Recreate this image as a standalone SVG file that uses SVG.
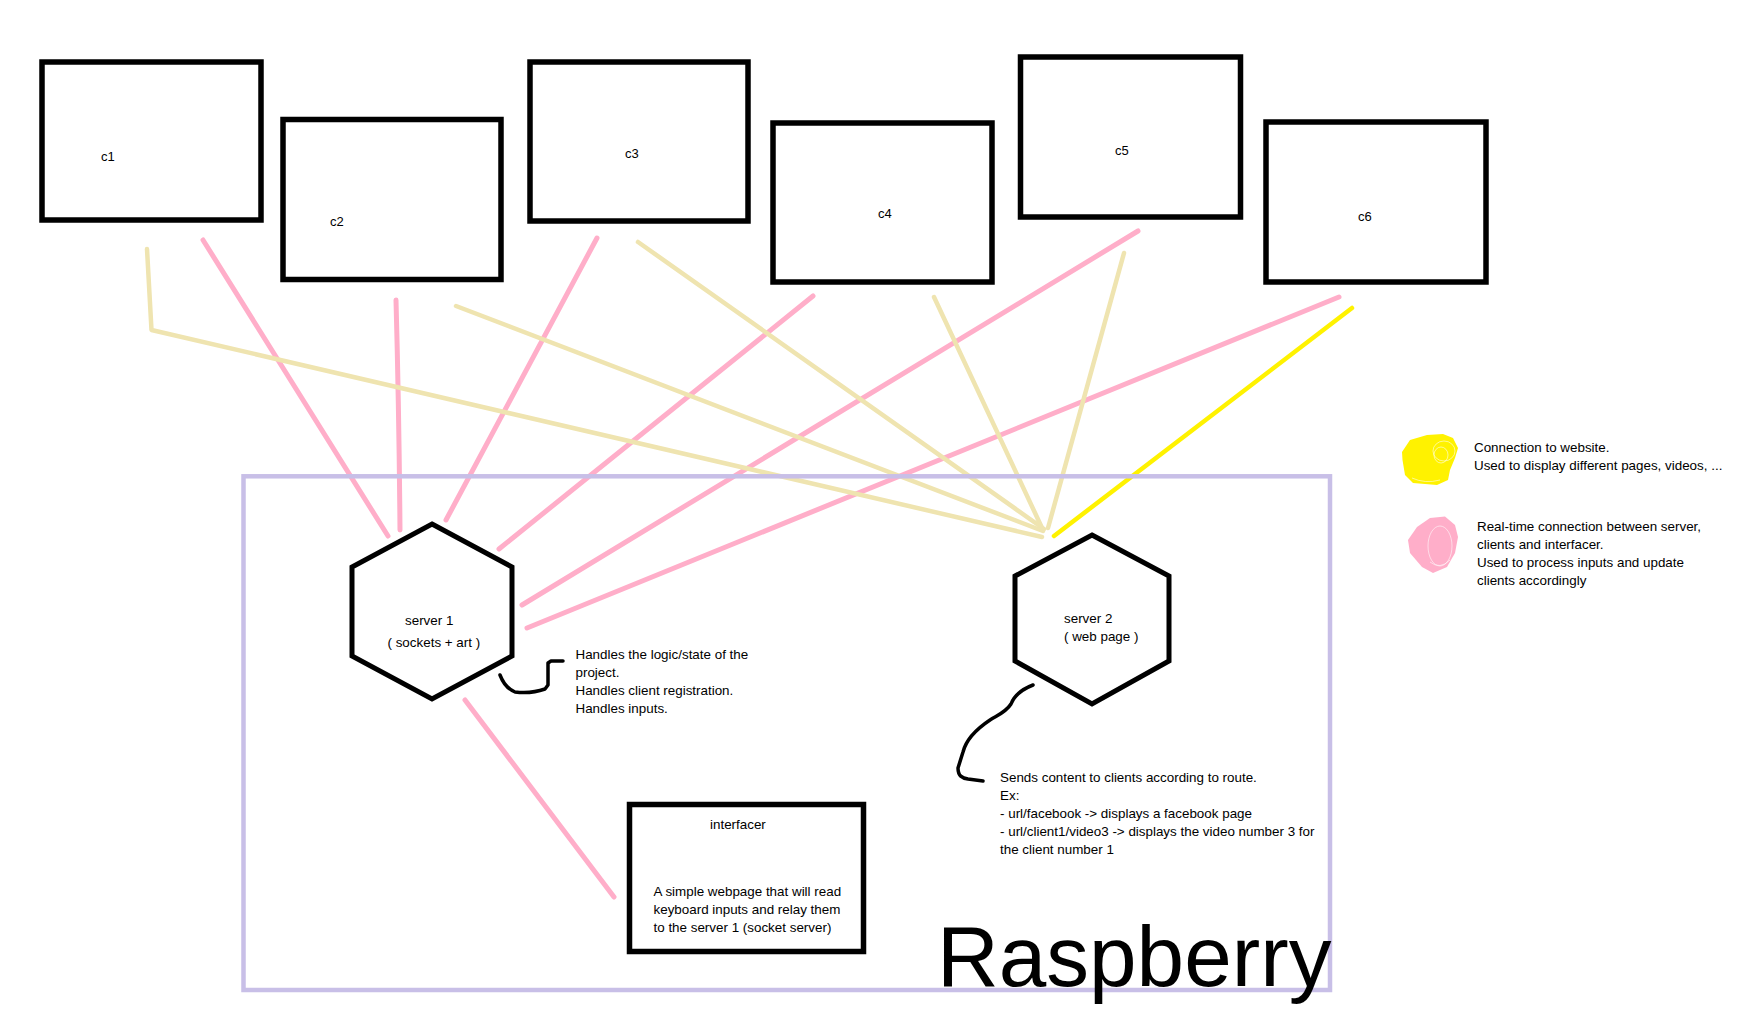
<svg xmlns="http://www.w3.org/2000/svg" width="1758" height="1024" viewBox="0 0 1758 1024">
<style>
  .box { fill: none; stroke: #000; stroke-width: 5.5; }
  .hex { fill: none; stroke: #000; stroke-width: 5; stroke-linejoin: miter; }
  .pink { fill: none; stroke: #ffaec9; stroke-width: 5; stroke-linecap: round; stroke-linejoin: round; }
  .beige { fill: none; stroke: #efe4b0; stroke-width: 4.5; stroke-linecap: round; stroke-linejoin: round; }
  .yellow { fill: none; stroke: #fff200; stroke-width: 4.5; stroke-linecap: round; }
  .ink { fill: none; stroke: #000; stroke-width: 3.5; stroke-linecap: round; stroke-linejoin: round; }
  .rasp { fill: none; stroke: #c8bfe7; stroke-width: 4.5; }
  text { font-family: "Liberation Sans", Arial, sans-serif; fill: #000; }
  .t { font-size: 13.4px; }
  .lbl { font-size: 13px; }
  .big { font-size: 85.5px; }
</style>
<rect width="1758" height="1024" fill="#fff"/>

<g id="connectors">
  <line class="pink" x1="203" y1="240" x2="388" y2="536"/>
  <path class="pink" d="M396,300 Q399,410 400,530"/>
  <line class="pink" x1="597" y1="238" x2="446" y2="520"/>
  <line class="pink" x1="813" y1="296" x2="499" y2="549"/>
  <line class="pink" x1="1138" y1="231" x2="522" y2="605"/>
  <line class="pink" x1="1339" y1="297" x2="527" y2="628"/>
  <line class="pink" x1="465" y1="700" x2="614" y2="897"/>
  <polyline class="beige" points="147,249 151.5,330 1042,537"/>
  <line class="beige" x1="456" y1="306" x2="1043" y2="531"/>
  <line class="beige" x1="638" y1="242" x2="1044" y2="529"/>
  <line class="beige" x1="934" y1="297" x2="1043" y2="530"/>
  <line class="beige" x1="1124" y1="253" x2="1048" y2="528"/>
  <line class="yellow" x1="1352" y1="308" x2="1054" y2="536"/>
</g>

<g id="raspberry">
  <rect class="rasp" x="243.5" y="476.3" width="1086.5" height="513.7"/>
  <text class="big" x="937" y="986">Raspberry</text>
</g>

<g id="c1">
  <rect class="box" x="42" y="62" width="219" height="158"/>
  <text class="lbl" x="101" y="161">c1</text>
</g>
<g id="c2">
  <rect class="box" x="283" y="119.5" width="218" height="160"/>
  <text class="lbl" x="330" y="225.5">c2</text>
</g>
<g id="c3">
  <rect class="box" x="530" y="62" width="218" height="159"/>
  <text class="lbl" x="625" y="158">c3</text>
</g>
<g id="c4">
  <rect class="box" x="773" y="123" width="219" height="159"/>
  <text class="lbl" x="878" y="217.5">c4</text>
</g>
<g id="c5">
  <rect class="box" x="1020.5" y="57" width="220" height="160"/>
  <text class="lbl" x="1115" y="154.5">c5</text>
</g>
<g id="c6">
  <rect class="box" x="1266" y="122" width="220" height="160"/>
  <text class="lbl" x="1358" y="220.5">c6</text>
</g>

<g id="server1">
  <polygon class="hex" points="432,524 512,567 512,656 432,699 352,656 352,567"/>
  <text class="t" x="405" y="625">server 1</text>
  <text class="t" x="387.5" y="647">( sockets + art )</text>
</g>
<g id="server2">
  <polygon class="hex" points="1092,535 1169,576 1169,661 1092,704 1015,661 1015,576"/>
  <text class="t" x="1064" y="622.5">server 2</text>
  <text class="t" x="1064" y="640.5">( web page )</text>
</g>
<g id="interfacer">
  <rect class="box" x="629.5" y="804.5" width="234" height="147"/>
  <text class="t" x="710" y="828.5">interfacer</text>
  <text class="t" x="653.5" y="895.5">A simple webpage that will read</text>
  <text class="t" x="653.5" y="913.5">keyboard inputs and relay them</text>
  <text class="t" x="653.5" y="931.5">to the server 1 (socket server)</text>
</g>

<g id="note-server1">
  <path class="ink" d="M500,675 Q505,688 515,692 Q531,694 545,689 L548,685 L548,663 L551,661 L563,661"/>
  <text class="t" x="575.5" y="659">Handles the logic/state of the</text>
  <text class="t" x="575.5" y="677">project.</text>
  <text class="t" x="575.5" y="695">Handles client registration.</text>
  <text class="t" x="575.5" y="713">Handles inputs.</text>
</g>
<g id="note-server2">
  <path class="ink" d="M1033,685 C1020,690 1014,696 1011,704 C1006,712 998,715 990,720 C975,730 966,740 963,752 L958,768 C958,776 962,778 968,779 L983,781"/>
  <text class="t" x="1000" y="782">Sends content to clients according to route.</text>
  <text class="t" x="1000" y="800">Ex:</text>
  <text class="t" x="1000" y="818">- url/facebook -&gt; displays a facebook page</text>
  <text class="t" x="1000" y="836">- url/client1/video3 -&gt; displays the video number 3 for</text>
  <text class="t" x="1000" y="854">the client number 1</text>
</g>

<g id="legend-yellow">
  <path fill="#fff200" d="M1402,452 L1410,440 L1427,435 L1443,434 L1453,438 L1458,448 L1455,458 L1450,470 L1448,480 L1437,485 L1413,483 L1405,475 L1402.5,460 Z"/>
  <ellipse cx="1444" cy="451" rx="11" ry="10" fill="none" stroke="#fff" stroke-width="0.8" opacity="0.7"/>
  <ellipse cx="1441" cy="455" rx="7" ry="8" fill="none" stroke="#fff" stroke-width="0.8" opacity="0.7"/>
  <path d="M1412,478 Q1425,484 1440,480" fill="none" stroke="#fff" stroke-width="0.8" opacity="0.7"/>
  <text class="t" x="1474" y="452">Connection to website.</text>
  <text class="t" x="1474" y="470">Used to display different pages, videos, ...</text>
</g>
<g id="legend-pink">
  <path fill="#ffaec9" d="M1430,518 L1445,516.5 L1455,525 L1458,537 L1455,553 L1447,567 L1433,573 L1422,567 L1410,553 L1408,540 L1417,527 Z"/>
  <ellipse cx="1440" cy="546" rx="12" ry="20" fill="none" stroke="#fff" stroke-width="0.8" opacity="0.7"/>
  <path d="M1430,562 Q1440,570 1450,560" fill="none" stroke="#fff" stroke-width="0.8" opacity="0.7"/>
  <text class="t" x="1477" y="530.5">Real-time connection between server,</text>
  <text class="t" x="1477" y="548.5">clients and interfacer.</text>
  <text class="t" x="1477" y="566.5">Used to process inputs and update</text>
  <text class="t" x="1477" y="584.5">clients accordingly</text>
</g>
</svg>
